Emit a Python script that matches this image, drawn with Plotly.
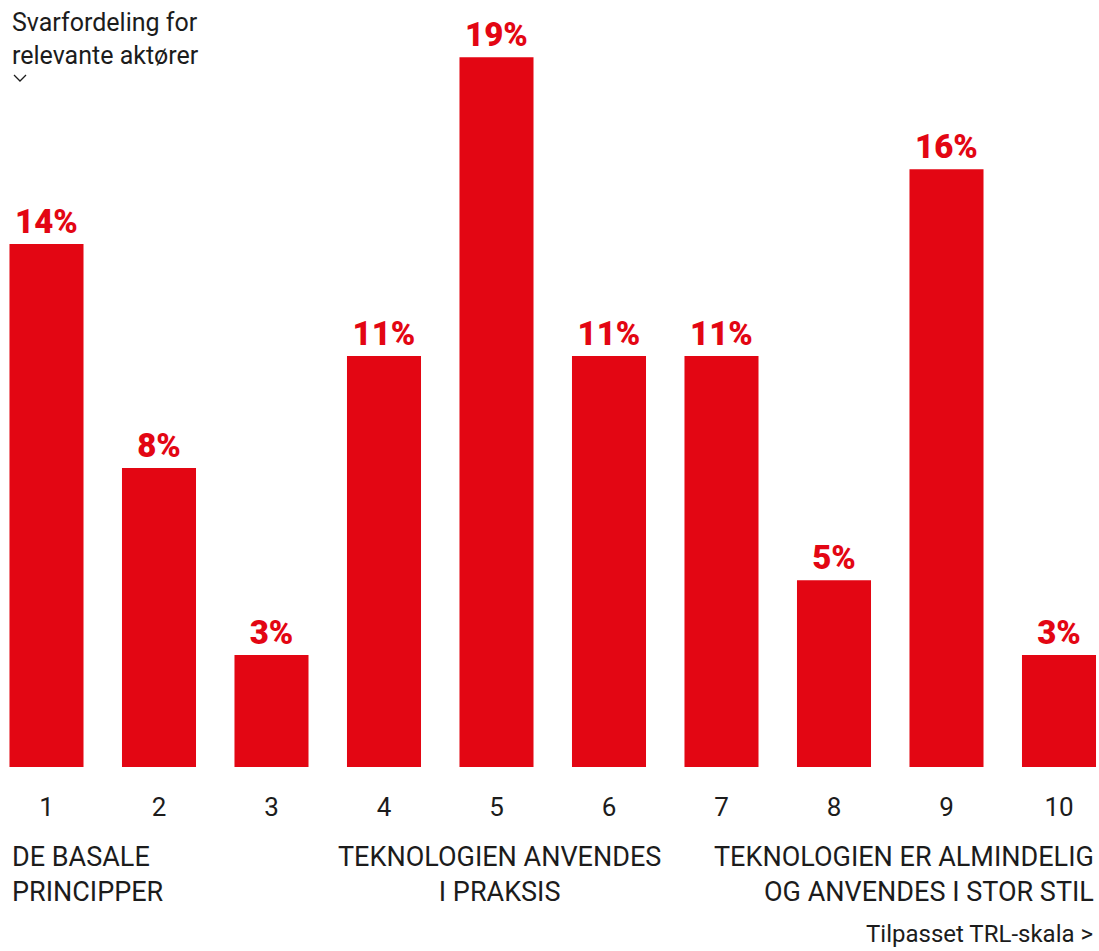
import plotly.graph_objects as go

# Response distribution per adjusted TRL level (percent)
trl_levels = [1, 2, 3, 4, 5, 6, 7, 8, 9, 10]
shares = [14, 8, 3, 11, 19, 11, 11, 5, 16, 3]
tick_labels = [str(v) for v in trl_levels]

RED = "#E30613"
INK = "#1c1c1c"
FONT = "Roboto, 'Liberation Sans', sans-serif"

W, H = 1099, 951
BOTTOM = 184
PLOT_H = H - BOTTOM


def px_x(x):
    return x / W


def px_y(y):
    # paper coordinates span the plot area only
    return (PLOT_H - y) / PLOT_H


fig = go.Figure(
    go.Bar(
        x=trl_levels,
        y=shares,
        width=0.658,
        marker=dict(color=RED, line=dict(width=0)),
        text=[f"{v}%" for v in shares],
        textposition="outside",
        textfont=dict(family=FONT, size=33, color=RED, weight=900),
        cliponaxis=False,
        hoverinfo="skip",
    )
)

fig.update_layout(
    width=W,
    height=H,
    margin=dict(l=0, r=0, t=0, b=BOTTOM),
    paper_bgcolor="white",
    plot_bgcolor="white",
    showlegend=False,
    font=dict(family=FONT, color=INK),
)

fig.update_xaxes(
    range=[0.5867, 10.3556],
    tickvals=trl_levels,
    ticktext=tick_labels,
    tickfont=dict(size=26, color=INK),
    ticks="outside",
    ticklen=17,
    tickcolor="rgba(0,0,0,0)",
    showgrid=False,
    zeroline=False,
    showline=False,
    fixedrange=True,
)
fig.update_yaxes(
    range=[0, 20.53],
    visible=False,
    fixedrange=True,
)

annotations = [
    dict(text="Svarfordeling for<br>relevante aktører", x=10, y=6,
         xanchor="left", yanchor="top", align="left", size=25),
    dict(text="DE BASALE<br>PRINCIPPER", x=10, y=839,
         xanchor="left", yanchor="top", align="left", size=27),
    dict(text="TEKNOLOGIEN ANVENDES<br>I PRAKSIS", x=499, y=839,
         xanchor="center", yanchor="top", align="center", size=27),
    dict(text="TEKNOLOGIEN ER ALMINDELIG<br>OG ANVENDES I STOR STIL", x=1096, y=839,
         xanchor="right", yanchor="top", align="right", size=27),
    dict(text="Tilpasset TRL-skala &gt;", x=1095, y=918,
         xanchor="right", yanchor="top", align="right", size=24),
]
for a in annotations:
    fig.add_annotation(
        text=a["text"],
        x=px_x(a["x"]),
        y=px_y(a["y"]),
        xref="paper",
        yref="paper",
        xanchor=a["xanchor"],
        yanchor=a["yanchor"],
        align=a["align"],
        showarrow=False,
        font=dict(family=FONT, size=a["size"], color=INK),
    )

# small chevron under the heading
fig.add_shape(
    type="path",
    xref="paper",
    yref="paper",
    path="M {:.5f},{:.5f} L {:.5f},{:.5f} L {:.5f},{:.5f}".format(
        px_x(14), px_y(75), px_x(20), px_y(81), px_x(26), px_y(75)
    ),
    line=dict(color=INK, width=1.3),
)

fig.write_html("out.html")
